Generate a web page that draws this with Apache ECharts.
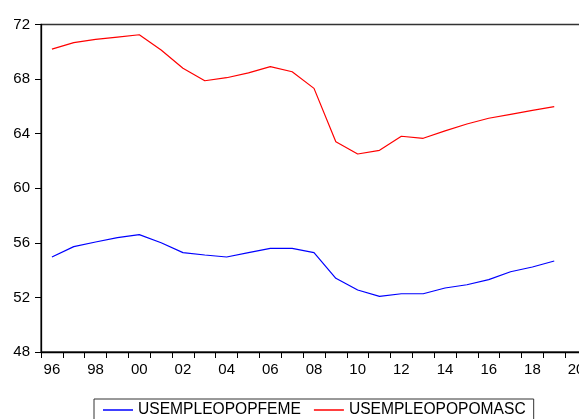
<!DOCTYPE html>
<html><head><meta charset="utf-8">
<script src="https://cdn.jsdelivr.net/npm/echarts@6/dist/echarts.min.js"></script>
<style>html,body{margin:0;padding:0;background:#fff}#c{width:579px;height:419px}</style>
</head><body><div id="c"></div>
<script>
const years = ['96','97','98','99','00','01','02','03','04','05','06','07','08','09','10','11','12','13','14','15','16','17','18','19','20'];
const feme = [54.96,55.72,56.06,56.38,56.6,56.01,55.28,55.11,54.96,55.28,55.6,55.6,55.28,53.4,52.54,52.08,52.27,52.27,52.69,52.93,53.3,53.88,54.23,54.67];
const masc = [70.2,70.67,70.91,71.08,71.25,70.13,68.79,67.88,68.1,68.45,68.91,68.54,67.32,63.41,62.51,62.78,63.81,63.66,64.2,64.71,65.13,65.42,65.71,65.98];
const names = ['USEMPLEOPOPFEME','USEMPLEOPOPOMASC'];
const font = 'Liberation Sans, Arial, sans-serif';
const chart = echarts.init(document.getElementById('c'));
chart.setOption({
  animation:false,
  grid:{left:41,top:24.5,right:-8,bottom:67,containLabel:false,outerBoundsMode:'none',
    show:true,borderColor:'#333',borderWidth:1.3},
  xAxis:{type:'category',data:years,boundaryGap:true,
    axisLine:{lineStyle:{color:'#000',width:1.3}},
    axisTick:{show:true,interval:0,length:6,lineStyle:{color:'#000'}},
    axisLabel:{interval:1,color:'#000',fontFamily:font,fontSize:15,margin:10}},
  yAxis:{type:'value',min:48,max:72,interval:4,
    axisLine:{show:true,lineStyle:{color:'#000',width:1.3}},
    axisTick:{show:true,length:6,lineStyle:{color:'#000'}},
    splitLine:{show:false},
    axisLabel:{color:'#000',fontFamily:font,fontSize:15,margin:11}},
  legend:{top:399,left:94,itemWidth:30,itemHeight:1.5,icon:'rect',itemGap:13,
    borderColor:'#333',borderWidth:1,padding:[3,8,10,9],
    textStyle:{color:'#000',fontFamily:font,fontSize:15.6}},
  series:[
    {name:names[0],type:'line',data:feme,symbol:'none',lineStyle:{color:'#0000ff',width:1.2},itemStyle:{color:'#0000ff'}},
    {name:names[1],type:'line',data:masc,symbol:'none',lineStyle:{color:'#ff0000',width:1.2},itemStyle:{color:'#ff0000'}}
  ]
});
</script></body></html>
